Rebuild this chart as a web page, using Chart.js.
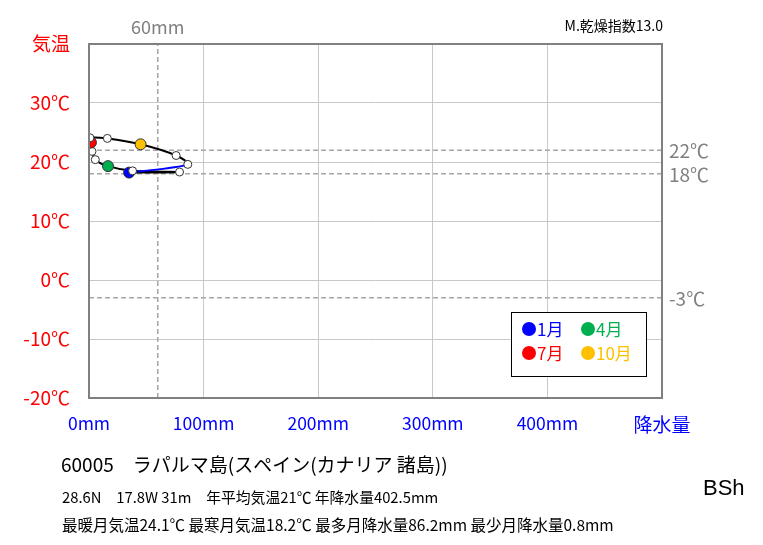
<!DOCTYPE html>
<html>
<head>
<meta charset="utf-8">
<script src="https://cdn.jsdelivr.net/npm/chart.js@4.4.1/dist/chart.umd.min.js"></script>
<style>
  body { margin: 0; background: #fff; }
  canvas { display: block; }
</style>
</head>
<body>
<canvas id="myChart" width="763" height="545"></canvas>
<script>
// monthly climate data
const months = ['1月','2月','3月','4月','5月','6月','7月','8月','9月','10月','11月','12月'];
const precip = [35, 79, 38, 16.6, 5.5, 2.6, 1.7, 0.8, 16, 45, 76, 86.2];
const temp   = [18.2, 18.3, 18.5, 19.3, 20.4, 21.8, 23.3, 24.1, 24.0, 23.0, 21.1, 19.6];

// highlighted months and their colours
const keyMonths = [0, 3, 6, 9];
const keyColors = ['#0000FF', '#00B050', '#FF0000', '#FFC000'];

// reference lines
const refTemps = [22, 18, -3];
const refPrecip = 60;

// axis ranges
const xMin = 0, xMax = 500, xStep = 100;
const yMin = -20, yMax = 40, yStep = 10;

const FONT = '"Noto Sans CJK JP", "DejaVu Sans", sans-serif';

// build points, Jan repeated at the end to close the loop
const pts = [];
for (let i = 0; i < months.length; i++) pts.push({x: precip[i], y: temp[i]});
pts.push({x: precip[0], y: temp[0]});

const ptColor = pts.map(function(p, i) {
  const k = keyMonths.indexOf(i);
  return k >= 0 ? keyColors[k] : '#FFFFFF';
});
const ptRadius = pts.map(function(p, i) {
  if (i === 12) return 0;
  return keyMonths.indexOf(i) >= 0 ? 5.5 : 4;
});

const dashed = [];
refTemps.forEach(function(t) {
  dashed.push({
    data: [{x: xMin, y: t}, {x: xMax, y: t}],
    showLine: true, borderColor: '#A6A6A6', borderWidth: 1.5,
    borderDash: [5, 3], pointRadius: 0, order: 2
  });
});
dashed.push({
  data: [{x: refPrecip, y: yMin}, {x: refPrecip, y: yMax}],
  showLine: true, borderColor: '#A6A6A6', borderWidth: 1.5,
  borderDash: [5, 3], pointRadius: 0, order: 2
});

const decor = {
  id: 'decor',
  afterDraw(chart) {
    const ctx = chart.ctx;
    const a = chart.chartArea;
    const xs = chart.scales.x, ys = chart.scales.y;
    ctx.save();
    // frame
    ctx.strokeStyle = '#808080';
    ctx.lineWidth = 2;
    ctx.strokeRect(a.left, a.top, a.right - a.left, a.bottom - a.top);

    ctx.textBaseline = 'middle';
    // 60mm label
    ctx.fillStyle = '#808080';
    ctx.font = '18px ' + FONT;
    ctx.textAlign = 'center';
    ctx.fillText(refPrecip + 'mm', xs.getPixelForValue(refPrecip), 27);
    // right labels
    ctx.font = '19px ' + FONT;
    ctx.textAlign = 'left';
    refTemps.forEach(function(t) {
      ctx.fillText(t + '℃', a.right + 7, ys.getPixelForValue(t) + 1);
    });

    // index top right
    ctx.fillStyle = '#000';
    ctx.font = '14px ' + FONT;
    ctx.textAlign = 'right';
    ctx.fillText('M.乾燥指数13.0', 663, 26);

    // legend box
    ctx.fillStyle = '#fff';
    ctx.fillRect(511, 312, 135, 64);
    ctx.strokeStyle = '#000';
    ctx.lineWidth = 1;
    ctx.strokeRect(511.5, 312.5, 135, 64);
    ctx.font = '17px ' + FONT;
    ctx.textAlign = 'left';
    keyMonths.forEach(function(m, k) {
      const cx = 529 + (k % 2) * 59;
      const cy = 329 + Math.floor(k / 2) * 24;
      ctx.fillStyle = keyColors[k];
      ctx.beginPath();
      ctx.arc(cx, cy, 7, 0, Math.PI * 2);
      ctx.fill();
      ctx.fillText(months[m], cx + 8, cy + 1);
    });

    // station info
    ctx.fillStyle = '#000';
    ctx.font = '19px ' + FONT;
    ctx.fillText('60005　ラパルマ島(スペイン(カナリア 諸島))', 61, 465);
    ctx.font = '14.8px ' + FONT;
    ctx.fillText('28.6N　17.8W 31m　年平均気温21℃ 年降水量402.5mm', 62, 497);
    ctx.font = '15.5px ' + FONT;
    ctx.fillText('最暖月気温24.1℃ 最寒月気温18.2℃ 最多月降水量86.2mm 最少月降水量0.8mm', 62, 525);
    ctx.font = '22px "Liberation Sans", Arial, sans-serif';
    ctx.fillText('BSh', 703, 489);
    ctx.restore();
  }
};

const config = {
  type: 'scatter',
  data: {
    datasets: [{
      data: pts,
      showLine: true,
      tension: 0.3,
      borderWidth: 2,
      borderColor: '#000',
      segment: {
        borderColor: function(c) { return c.p0DataIndex === 11 ? '#0000FF' : '#000'; }
      },
      pointBackgroundColor: ptColor,
      pointBorderColor: '#333',
      pointBorderWidth: 1,
      pointRadius: ptRadius,
      order: 0
    }].concat(dashed)
  },
  options: {
    responsive: false,
    animation: false,
    devicePixelRatio: 1,
    layout: { padding: { left: 0, top: 44, right: 101, bottom: 97 } },
    plugins: { legend: { display: false }, tooltip: { enabled: false } },
    scales: {
      x: {
        type: 'linear', min: xMin, max: xMax,
        afterFit: function(s) { s.height = 50; },
        ticks: {
          stepSize: xStep, color: '#0000FF', padding: 15,
          maxRotation: 0,
          font: function(c) {
            return { family: FONT, size: c.tick && c.tick.value === xMax ? 19 : 17.5 };
          },
          callback: function(v) { return v === xMax ? '降水量' : v + 'mm'; }
        },
        grid: { color: '#C8C8C8', lineWidth: 1, drawTicks: false },
        border: { display: false }
      },
      y: {
        type: 'linear', min: yMin, max: yMax,
        afterFit: function(s) { s.width = 89; },
        ticks: {
          stepSize: yStep, color: '#FF0000', padding: 19,
          font: { family: FONT, size: 19 },
          callback: function(v) { return v === yMax ? '気温' : v + '℃'; }
        },
        grid: { color: '#C8C8C8', lineWidth: 1, drawTicks: false },
        border: { display: false }
      }
    }
  },
  plugins: [decor]
};

const myChart = new Chart(document.getElementById('myChart'), config);
</script>
</body>
</html>
